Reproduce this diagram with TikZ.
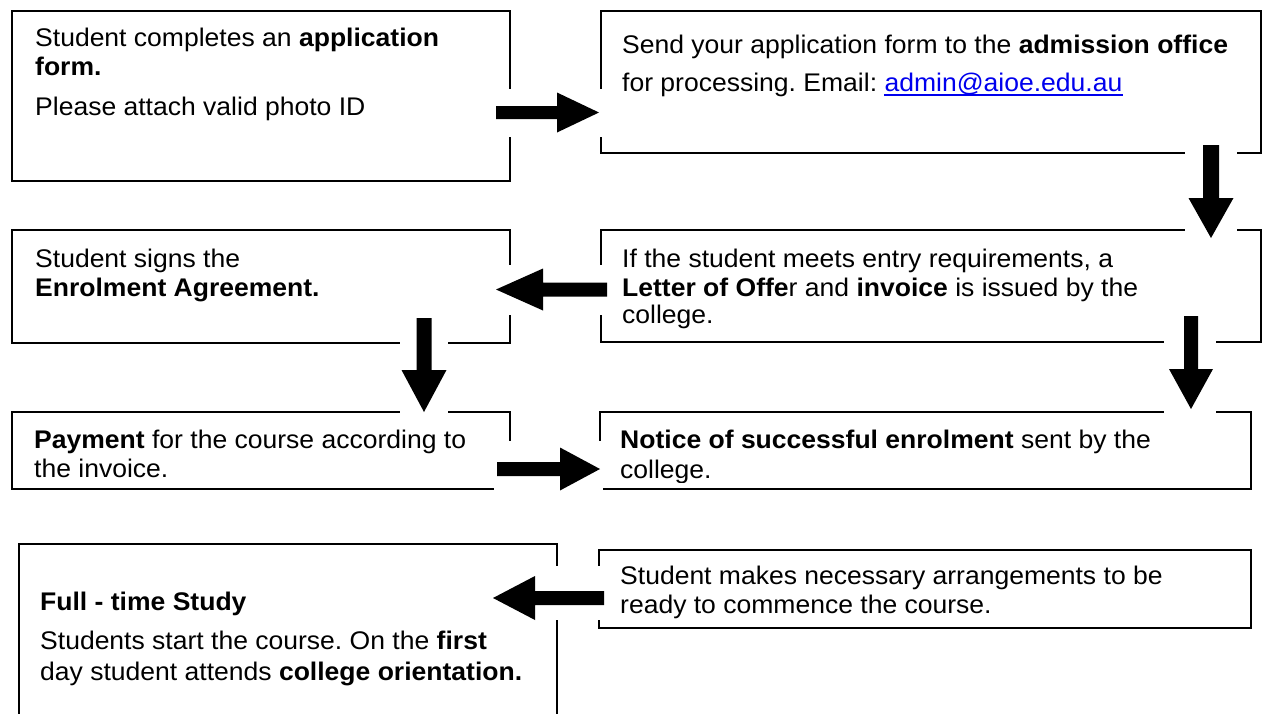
\documentclass[tikz,border=0pt]{standalone}
\usepackage{fontspec}
\setmainfont[FakeStretch=1.04]{Liberation Sans}
\definecolor{linkblue}{RGB}{0,0,238}
\frenchspacing
\begin{document}
\begin{tikzpicture}[x=1pt,y=-1pt,
  box/.style={draw=black, line width=1.6pt, inner sep=0pt, anchor=north west},
  txt/.style={anchor=base west, inner sep=0pt, font=\fontsize{25.5}{30}\selectfont\frenchspacing},
  wipe/.style={fill=white, draw=none},
  pics/barrow/.style args={#1/#2/#3/#4}{code={%
    \fill[black] (0,-#3) -- ({#1-#2},-#3) -- ({#1-#2},-#4) -- (#1,0) -- ({#1-#2},#4) -- ({#1-#2},#3) -- (0,#3) -- cycle;}}]
\useasboundingbox[fill=white] (0,0) rectangle (1262,713);

% boxes
\node[box, minimum width=498, minimum height=170] (A) at (11,10) {};
\node[box, minimum width=660, minimum height=142] (B) at (600,10) {};
\node[box, minimum width=660, minimum height=112] (C) at (600,229) {};
\node[box, minimum width=498, minimum height=113] (D) at (11,229) {};
\node[box, minimum width=498, minimum height=77] (E) at (11,411) {};
\node[box, minimum width=651, minimum height=77] (F) at (599,411) {};
\node[box, minimum width=538, minimum height=200] (G) at (18,543) {};
\node[box, minimum width=652, minimum height=78] (H) at (598,549) {};

% texts
\node[txt] (a1) at (35,46) {Student completes an \textbf{application}};
\node[txt] (a2) at (35,75) {\textbf{form.}};
\node[txt] (a3) at (35,115) {Please attach valid photo ID};

\node[txt] (b1) at (622,53) {Send your application form to the \textbf{admission office}};
\node[txt] (b2) at (622,91) {for processing. Email:};
\node[txt, text=linkblue] (email) at ([xshift=7]b2.base east) {admin@aioe.edu.au};
\draw[linkblue, line width=1.4pt] ([yshift=-4]email.base west) -- ([yshift=-4]email.base east);

\node[txt] (c1) at (622,267) {If the student meets entry requirements, a};
\node[txt] (c2) at (622,296) {\textbf{Letter of Offe}r and \textbf{invoice} is issued by the};
\node[txt] (c3) at (622,323) {college.};

\node[txt] (d1) at (35,267) {Student signs the};
\node[txt] (d2) at (35,296) {\textbf{Enrolment Agreement.}};

\node[txt] (e1) at (34,448) {\textbf{Payment} for the course according to};
\node[txt] (e2) at (34,477) {the invoice.};

\node[txt] (f1) at (620,448) {\textbf{Notice of successful enrolment} sent by the};
\begin{scope}
\clip (590,400) rectangle (1262,482.5);
\node[txt] (f2) at (620,478) {college.};
\end{scope}

\node[txt] (g1) at (40,610) {\textbf{Full - time Study}};
\node[txt] (g2) at (40,649) {Students start the course. On the \textbf{first}};
\node[txt] (g3) at (40,680) {day student attends \textbf{college orientation.}};

\node[txt] (h1) at (620,584) {Student makes necessary arrangements to be};
\node[txt] (h2) at (620,613) {ready to commence the course.};

% white grounds behind the block arrows
\fill[wipe] (493,89) rectangle (603,137);
\fill[wipe] (1185,143) rectangle (1237,240);
\fill[wipe] (493,265) rectangle (610,315);
\fill[wipe] (1164,314) rectangle (1216,413);
\fill[wipe] (400,316) rectangle (448,413);
\fill[wipe] (494,441) rectangle (603,490);
\fill[wipe] (490,566) rectangle (607,620);

% block arrows
\coordinate (t1) at (496,112.5);
\pic at (t1) {barrow=103/42/6.5/20};
\coordinate (t2) at (1211,145);
\pic[rotate=-90] at (t2) {barrow=93/40/8/22.5};
\coordinate (t3) at (607,289.5);
\pic[rotate=180] at (t3) {barrow=111/47/7/21};
\coordinate (t4) at (1191,316);
\pic[rotate=-90] at (t4) {barrow=93/40/7/22};
\coordinate (t5) at (424,318);
\pic[rotate=-90] at (t5) {barrow=94/42/7.5/22.5};
\coordinate (t6) at (497,469);
\pic at (t6) {barrow=103/40/7/21.5};
\coordinate (t7) at (604,598);
\pic[rotate=180] at (t7) {barrow=111/42/7/22};
\end{tikzpicture}
\end{document}
